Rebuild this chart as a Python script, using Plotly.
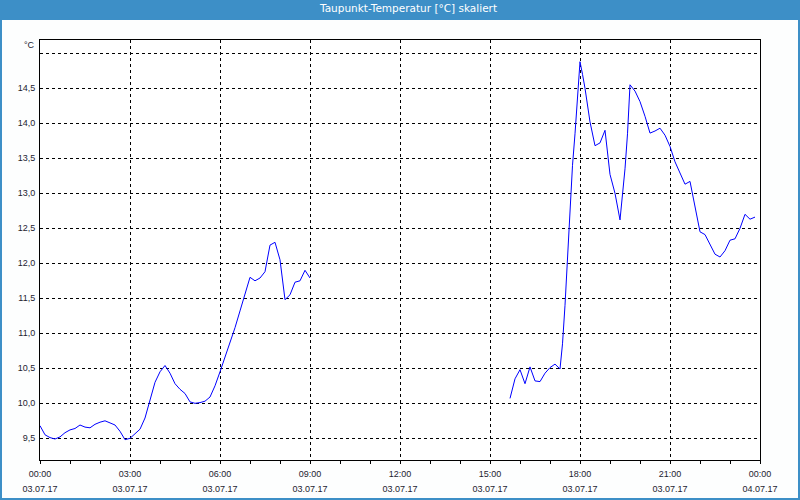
import plotly.graph_objects as go
import pandas as pd

DAY = "2017-07-03"
TITLE = "Taupunkt-Temperatur [°C] skaliert"
UNIT = "°C"

# Segment 1: 00:00 - 09:00, 10-minute readings
seg1_start = "00:00"
seg1_values = [9.68, 9.55, 9.51, 9.49, 9.52, 9.58, 9.62, 9.64, 9.69, 9.66,
               9.65, 9.70, 9.73, 9.75, 9.72, 9.69, 9.60, 9.48, 9.50, 9.57,
               9.63, 9.79, 10.05, 10.30, 10.45, 10.54, 10.43, 10.28, 10.20, 10.14,
               10.02, 10.00, 10.01, 10.03, 10.09, 10.25, 10.45, 10.65, 10.85, 11.08,
               11.32, 11.55, 11.80, 11.75, 11.79, 11.88, 12.26, 12.30, 12.05, 11.48,
               11.55, 11.73, 11.75, 11.90, 11.79]

# Segment 2: 15:40 - 23:50
seg2_times = ["15:40", "15:50", "16:00", "16:10", "16:20", "16:30", "16:40", "16:50",
              "17:00", "17:10", "17:20", "17:25", "17:30", "17:35", "17:40", "17:45",
              "17:50", "17:55", "18:00", "18:05", "18:10", "18:20", "18:30", "18:40",
              "18:50", "19:00", "19:10", "19:20", "19:25", "19:30", "19:35", "19:40",
              "19:50", "20:00", "20:10", "20:20", "20:30", "20:40", "20:50", "21:00",
              "21:10", "21:20", "21:30", "21:40", "21:50", "22:00", "22:10", "22:20",
              "22:30", "22:40", "22:50", "23:00", "23:10", "23:20", "23:30", "23:40",
              "23:50"]
seg2_values = [10.07, 10.35, 10.48, 10.28, 10.52, 10.32, 10.31, 10.43,
               10.51, 10.56, 10.49, 10.85, 11.40, 12.10, 12.85, 13.40,
               13.85, 14.35, 14.88, 14.70, 14.50, 14.02, 13.68, 13.72,
               13.90, 13.27, 13.00, 12.62, 12.98, 13.35, 13.85, 14.55,
               14.46, 14.31, 14.10, 13.86, 13.89, 13.93, 13.83, 13.67,
               13.45, 13.30, 13.13, 13.17, 12.80, 12.45, 12.41, 12.27,
               12.13, 12.09, 12.18, 12.33, 12.35, 12.50, 12.70, 12.63,
               12.66]

y_ticks = [9.5, 10.0, 10.5, 11.0, 11.5, 12.0, 12.5, 13.0, 13.5, 14.0, 14.5, 15.0]
y_labels = ["9,5", "10,0", "10,5", "11,0", "11,5", "12,0", "12,5", "13,0",
            "13,5", "14,0", "14,5", ""]

seg1_x = list(pd.date_range(f"{DAY} {seg1_start}", periods=len(seg1_values), freq="10min"))
seg2_x = [pd.Timestamp(f"{DAY} {t}") for t in seg2_times]
xs = seg1_x + [None] + seg2_x
ys = seg1_values + [None] + seg2_values

BLUE_FRAME = "#3d8fc7"
TXT = "#1c1c30"
FONT = "Liberation Sans"

fig = go.Figure()
fig.add_trace(go.Scatter(x=xs, y=ys, mode="lines", connectgaps=False,
                         line=dict(color="#0000ff", width=1), showlegend=False,
                         hoverinfo="x+y"))
# helper trace for the second (date) label row
fig.add_trace(go.Scatter(x=[seg1_x[0]], y=[None], xaxis="x2", mode="lines",
                         showlegend=False, hoverinfo="skip"))

xr = [f"{DAY} 00:00", "2017-07-04 00:00"]
fig.update_layout(
    width=800, height=500,
    margin=dict(l=40, r=40, t=40, b=40, autoexpand=False),
    paper_bgcolor="#fdfefe", plot_bgcolor="white",
    font=dict(family=FONT, size=9, color=TXT),
    xaxis=dict(range=xr, type="date", dtick=3 * 3600 * 1000, tick0=f"{DAY} 00:00",
               tickformat="%H:%M", ticks="outside", ticklen=3, tickcolor="black",
               showline=True, linecolor="black", linewidth=1, mirror=True,
               showgrid=True, gridcolor="black", gridwidth=1, griddash="3px,3px",
               minor=dict(dtick=3600 * 1000, ticks="outside", ticklen=3,
                          tickcolor="black", showgrid=False),
               tickfont=dict(family=FONT, size=9, color=TXT),
               ticklabelstandoff=2, automargin=False,
               zeroline=False, fixedrange=True),
    xaxis2=dict(range=xr, type="date", overlaying="x", side="bottom", matches="x",
                dtick=3 * 3600 * 1000, tick0=f"{DAY} 00:00", tickformat="%d.%m.%y",
                ticks="", showgrid=False, showline=False, zeroline=False,
                ticklabelstandoff=22, automargin=False,
                tickfont=dict(family=FONT, size=9, color=TXT)),
    yaxis=dict(range=[9.19, 15.19], tickvals=y_ticks, ticktext=y_labels,
               ticks="", showline=True, linecolor="black", linewidth=1, mirror=True,
               showgrid=True, gridcolor="black", gridwidth=1, griddash="3px,3px",
               zeroline=False, tickfont=dict(family=FONT, size=9, color=TXT),
               ticklabelstandoff=2, automargin=False),
)

# title bar and outer frame
fig.add_shape(type="rect", xref="paper", yref="paper",
              x0=-40 / 720, x1=760 / 720, y0=440 / 420, y1=460 / 420,
              fillcolor=BLUE_FRAME, line=dict(width=0), layer="below")
fig.add_shape(type="rect", xref="paper", yref="paper",
              x0=-39 / 720, x1=759 / 720, y0=-39 / 420, y1=459 / 420,
              line=dict(color=BLUE_FRAME, width=2), fillcolor="rgba(0,0,0,0)")
fig.add_annotation(text=TITLE, xref="paper", yref="paper",
                   x=368 / 720, y=452 / 420, xanchor="center", yanchor="middle",
                   showarrow=False, font=dict(family="DejaVu Sans", size=10.5, color="white"))
fig.add_annotation(text=UNIT, xref="paper", yref="paper",
                   x=-3 / 720, y=415 / 420, xanchor="right", yanchor="middle",
                   showarrow=False, font=dict(family=FONT, size=9, color=TXT))

fig.write_html("out.html")
